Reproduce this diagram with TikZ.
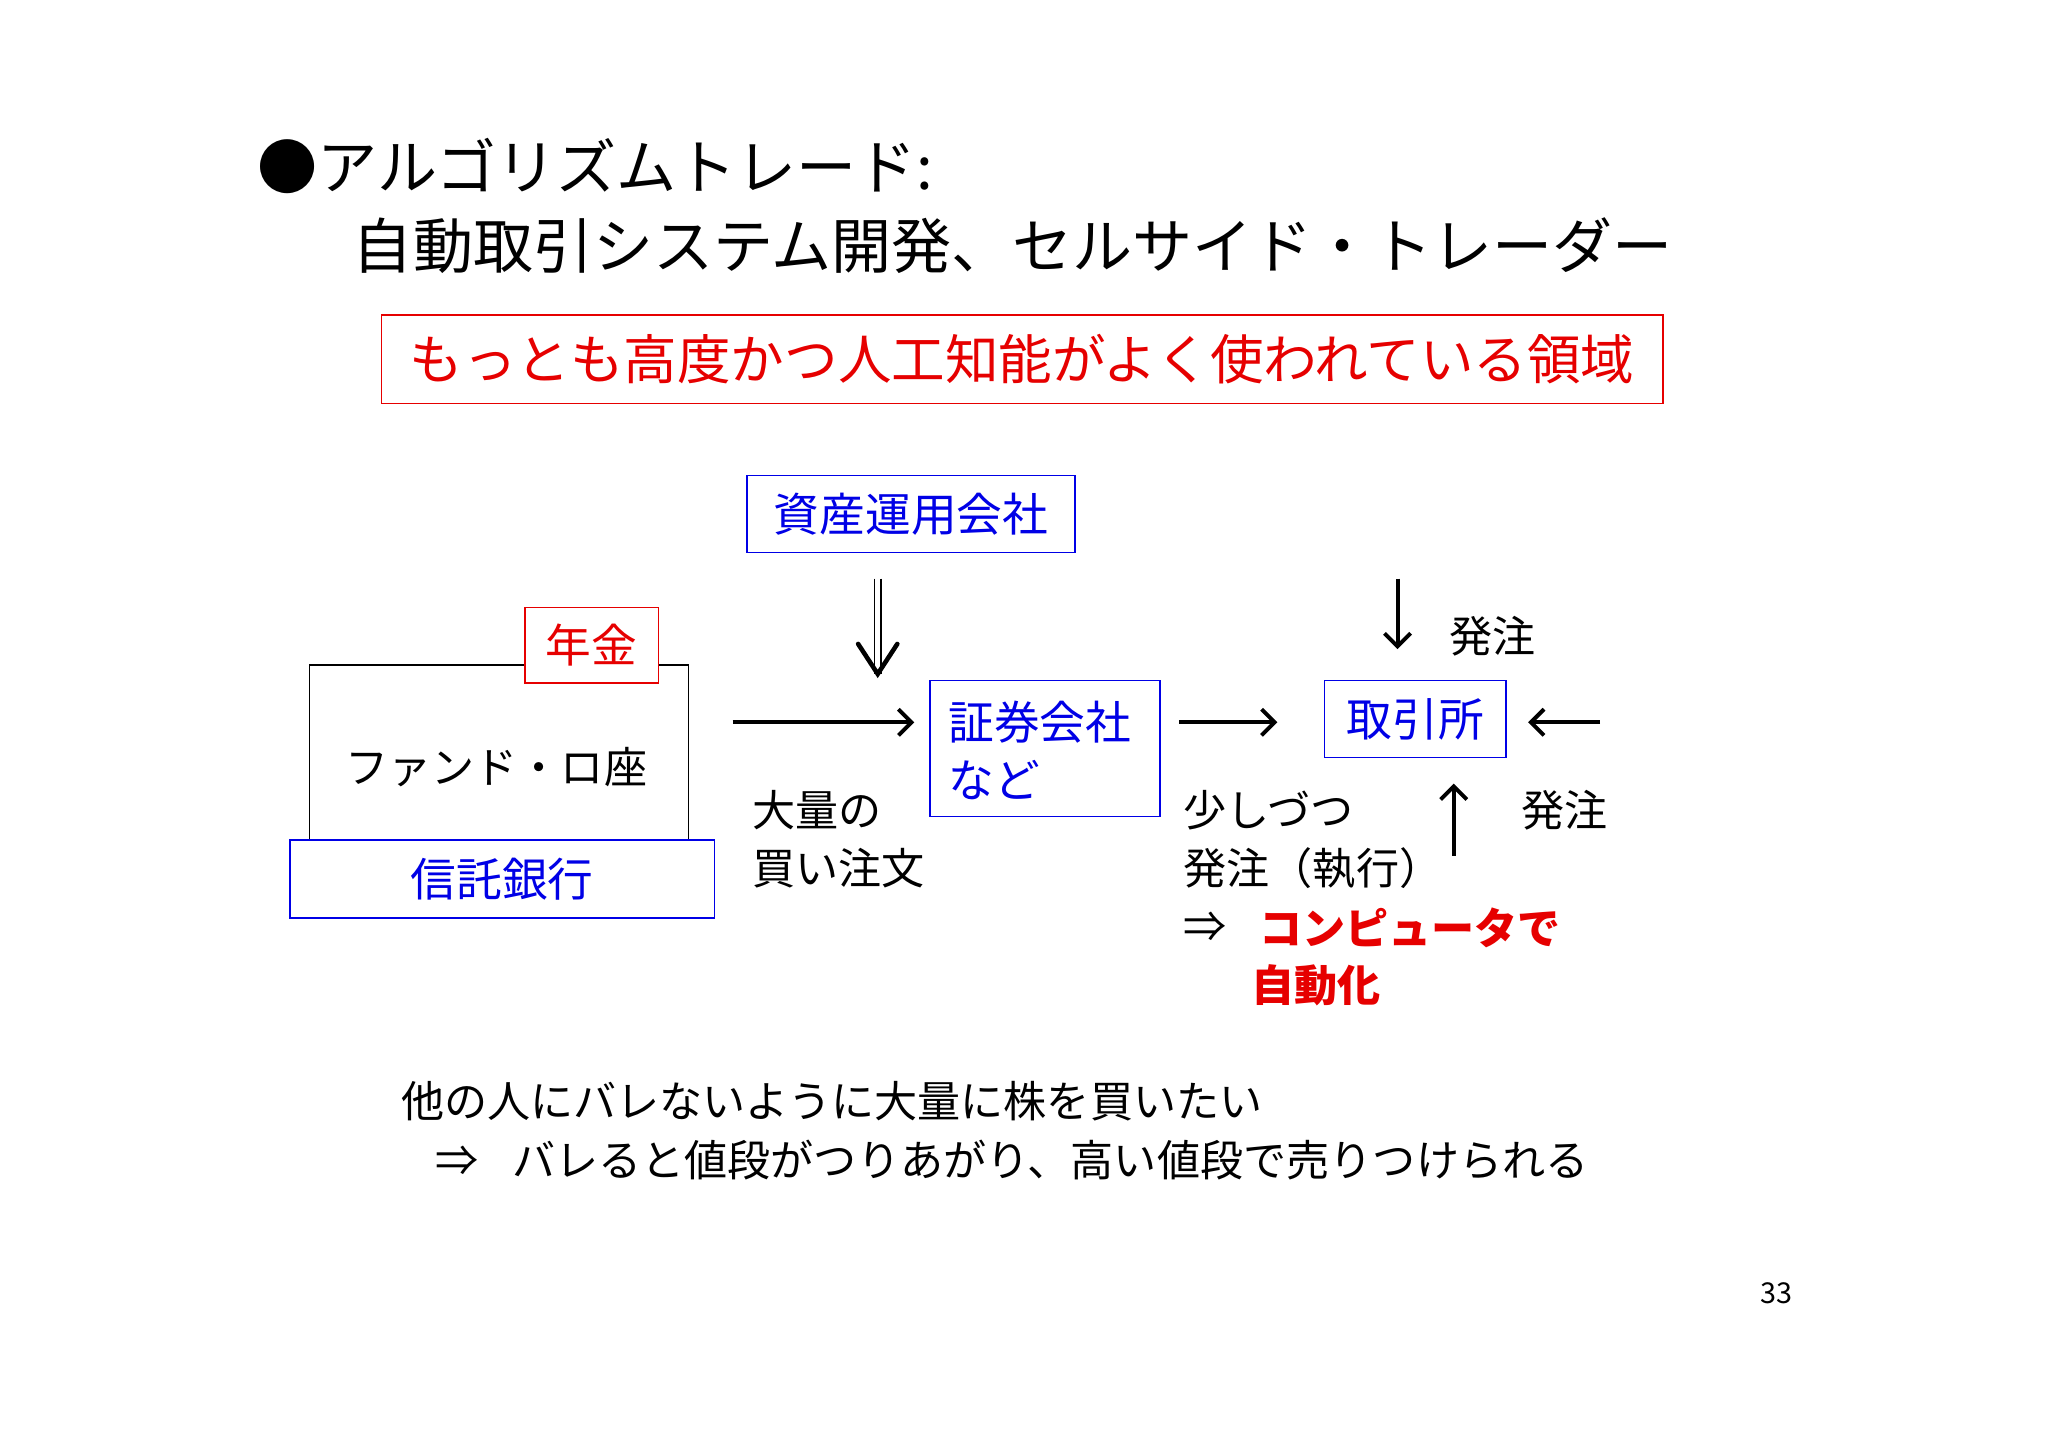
\documentclass[tikz,border=0pt]{standalone}
\usepackage{fontspec}
\setmainfont{Noto Sans CJK JP}
\usetikzlibrary{arrows.meta}
\definecolor{rd}{RGB}{230,0,0}
\definecolor{bl}{RGB}{0,0,230}
\tikzset{
 bx/.style={draw,line width=1.2pt,inner sep=0pt},
 txt/.style={inner sep=0pt,anchor=west},
 arr/.style={line width=3pt,-{Straight Barb[length=10pt,width=20pt,line width=3pt]}},
}
\begin{document}
\begin{tikzpicture}[x=1pt,y=-1pt]
\useasboundingbox (0,0) rectangle (1568,1109);
\fill[white] (0,0) rectangle (1568,1109);
\node[txt,font=\fontsize{46}{50}\selectfont] (t1) at (197,127) {●アルゴリズムトレード:};
\node[txt,font=\fontsize{46}{50}\selectfont] (t2) at (270,188) {自動取引システム開発、セルサイド・トレーダー};
\node[bx,draw=rd,text=rd,minimum width=981pt,minimum height=68pt,font=\fontsize{41}{44}\selectfont] (sub) at (782.5,275) {もっとも高度かつ人工知能がよく使われている領域};
\node[bx,draw=bl,text=bl,minimum width=251pt,minimum height=59pt,font=\fontsize{35}{38}\selectfont] (asset) at (697.5,393.5) {資産運用会社};
% double arrow
\coordinate (da) at (672,443);
\coordinate (db) at (672,516);
\draw[line width=1.2pt] ([xshift=-2.5pt]da) -- ([xshift=-2.5pt]db) ([xshift=2.5pt]da) -- ([xshift=2.5pt]db);
\draw[line width=3.5pt,line cap=round,line join=miter] (657,493) -- (db) -- (687,493);
\node[bx,minimum width=290pt,minimum height=134pt] (fund) at (382,576) {};
\node[font=\fontsize{33}{36}\selectfont] (fundt) at (380,587) {ファンド・ロ座};
\node[bx,draw=rd,fill=white,text=rd,minimum width=102pt,minimum height=58pt,font=\fontsize{35}{38}\selectfont] (nk) at (453,494) {年金};
\node[bx,draw=bl,fill=white,text=bl,minimum width=325pt,minimum height=60pt,font=\fontsize{35}{38}\selectfont] (tb) at (384.5,673) {信託銀行};
\coordinate (a1) at (561,553);
\coordinate (a1e) at (700,553);
\node[bx,draw=bl,text=bl,minimum width=176pt,minimum height=104pt] (sec) at (800,573) {};
\node[txt,text=bl,font=\fontsize{35}{38}\selectfont] (sect1) at (726,553) {証券会社};
\node[txt,text=bl,font=\fontsize{35}{38}\selectfont] (sect2) at (726,597) {など};
\draw[arr] (a1) -- (a1e);
\node[txt,font=\fontsize{33}{36}\selectfont] (b1) at (576,620) {大量の};
\node[txt,font=\fontsize{33}{36}\selectfont] (b2) at (576,665) {買い注文};
\node[bx,draw=bl,text=bl,minimum width=139pt,minimum height=59pt,font=\fontsize{35}{38}\selectfont] (ex) at (1083.5,550.5) {取引所};
\coordinate (a2s) at (903,553);
\coordinate (a2e) at (978,553);
\draw[arr] (a2s) -- (a2e);
\coordinate (a3s) at (1225,553);
\coordinate (a3e) at (1170,553);
\draw[arr] (a3s) -- (a3e);
\coordinate (a4s) at (1070,443);
\coordinate (a4e) at (1070,497);
\draw[arr] (a4s) -- (a4e);
\node[font=\fontsize{33}{36}\selectfont] (o1) at (1143,487) {発注};
\coordinate (a5s) at (1113,655);
\coordinate (a5e) at (1113,600);
\draw[arr] (a5s) -- (a5e);
\node[font=\fontsize{33}{36}\selectfont] (o2) at (1198,620) {発注};
\node[txt,font=\fontsize{33}{36}\selectfont] (s1) at (906,620) {少しづつ};
\node[txt,font=\fontsize{33}{36}\selectfont] (s2) at (906,665) {発注（執行）};
\node[txt,font=\fontsize{33}{36}\selectfont] (s3) at (906,710) {⇒};
\node[txt,text=rd,font=\fontsize{33}{36}\selectfont\bfseries] (s4) at (964,710) {コンピュータで};
\node[txt,text=rd,font=\fontsize{33}{36}\selectfont\bfseries] (s5) at (958,754) {自動化};
\node[txt,font=\fontsize{33}{36}\selectfont] (m1) at (307,843) {他の人にバレないように大量に株を買いたい};
\node[txt,font=\fontsize{33}{36}\selectfont] (m2) at (333,888) {⇒\hspace{26pt}バレると値段がつりあがり、高い値段で売りつけられる};
\node[font=\fontsize{22}{26}\selectfont] (pg) at (1360,990) {33};
\end{tikzpicture}
\end{document}
